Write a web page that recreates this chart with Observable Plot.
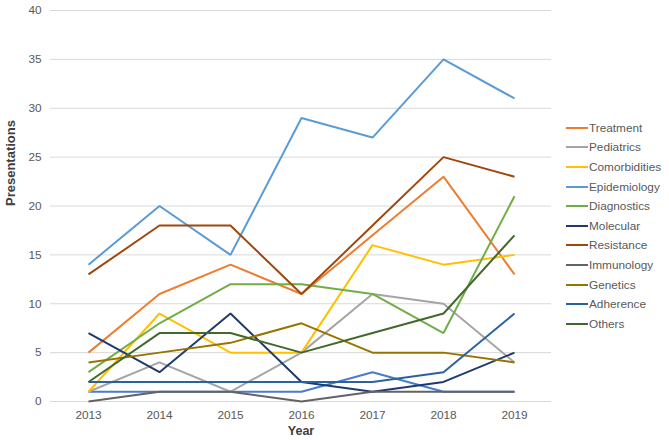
<!DOCTYPE html>
<html>
<head>
<meta charset="utf-8">
<script src="https://cdn.jsdelivr.net/npm/d3@7"></script>
<script src="https://cdn.jsdelivr.net/npm/@observablehq/plot@0.6"></script>
<style>
  html, body { margin: 0; padding: 0; background: #fff; }
  #wrap { position: relative; width: 669px; height: 440px; font-family: "Liberation Sans", Arial, sans-serif; }
  #legend { position: absolute; left: 566px; top: 118px; font-size: 11.8px; color: #595959; }
  .li { display: flex; align-items: center; height: 19.6px; white-space: nowrap; }
  .sw { width: 22px; height: 2px; margin-right: 1px; }
</style>
</head>
<body>
<div id="wrap"><div id="legend"></div></div>
<script>
const years = [2013, 2014, 2015, 2016, 2017, 2018, 2019];
const seriesNames = ["(unlabeled)", "Treatment", "Pediatrics", "Comorbidities", "Epidemiology", "Diagnostics", "Molecular", "Resistance", "Immunology", "Genetics", "Adherence", "Others"];
const seriesColors = ["#4a7cc9", "#ED7D31", "#A5A5A5", "#FFC000", "#5B9BD5", "#70AD47", "#1f3a6e", "#9E480E", "#636363", "#997300", "#2a62a0", "#43682B"];
const inLegend = [false, true, true, true, true, true, true, true, true, true, true, true];

const unlabeled    = [1, 1, 1, 1, 3, 1, 1];
const treatment    = [5, 11, 14, 11, 17, 23, 13];
const pediatrics   = [1, 4, 1, 5, 11, 10, 4];
const comorbidities= [1, 9, 5, 5, 16, 14, 15];
const epidemiology = [14, 20, 15, 29, 27, 35, 31];
const diagnostics  = [3, 8, 12, 12, 11, 7, 21];
const molecular    = [7, 3, 9, 2, 1, 2, 5];
const resistance   = [13, 18, 18, 11, 18, 25, 23];
const immunology   = [0, 1, 1, 0, 1, 1, 1];
const genetics     = [4, 5, 6, 8, 5, 5, 4];
const adherence    = [2, 2, 2, 2, 2, 3, 9];
const others       = [2, 7, 7, 5, 7, 9, 17];

const seriesValues = [unlabeled, treatment, pediatrics, comorbidities, epidemiology, diagnostics, molecular, resistance, immunology, genetics, adherence, others];
const yTicks = [0, 5, 10, 15, 20, 25, 30, 35, 40];

const data = [];
seriesNames.forEach((name, i) => {
  seriesValues[i].forEach((v, j) => data.push({series: name, year: String(years[j]), value: v}));
});

const chart = Plot.plot({
  width: 669,
  height: 440,
  marginLeft: 50,
  marginRight: 118,
  marginTop: 10,
  marginBottom: 39,
  style: {fontFamily: "'Liberation Sans', Arial, sans-serif", fontSize: "11.8px", color: "#595959", background: "transparent"},
  x: {type: "point", domain: years.map(String), padding: 0.5, label: null},
  y: {domain: [0, 40], ticks: yTicks, label: null},
  color: {domain: seriesNames, range: seriesColors},
  marks: [
    Plot.gridY(yTicks, {stroke: "#d9d9d9", strokeOpacity: 1, strokeWidth: 1}),
    Plot.axisY(yTicks, {tickSize: 0, tickPadding: 9, fill: "#595959", fontSize: 11.8}),
    Plot.axisX({tickSize: 0, tickPadding: 9, fill: "#595959", fontSize: 11.8}),
    Plot.line(data, {x: "year", y: "value", z: "series", stroke: "series", strokeWidth: 2, strokeLinejoin: "miter", strokeLinecap: "butt"}),
    Plot.text(["Year"], {frameAnchor: "bottom", dy: 33, text: d => d, fontWeight: "bold", fontSize: 12.5, fill: "#404040"}),
    Plot.text(["Presentations"], {frameAnchor: "left", dx: -40, rotate: -90, text: d => d, fontWeight: "bold", fontSize: 13, fill: "#404040"})
  ]
});
document.getElementById("wrap").prepend(chart);
chart.style.position = "absolute";
chart.style.left = "0";
chart.style.top = "0";

const legend = d3.select("#legend");
seriesNames.forEach((name, i) => {
  if (!inLegend[i]) return;
  const row = legend.append("div").attr("class", "li");
  row.append("div").attr("class", "sw").style("background", seriesColors[i]);
  row.append("span").text(name);
});
</script>
</body>
</html>
